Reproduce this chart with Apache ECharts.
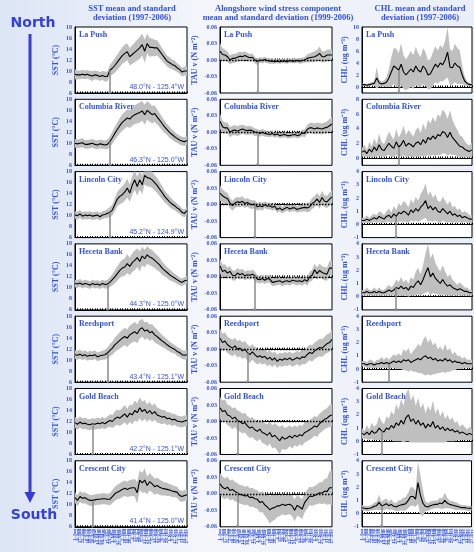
<!DOCTYPE html>
<html><head><meta charset="utf-8">
<script src="https://cdn.jsdelivr.net/npm/echarts@6/dist/echarts.min.js"></script>
<style>html,body{margin:0;padding:0;background:#eef2fa}#c{width:474px;height:552px}</style>
</head><body><div id="c"></div>
<script>
const dates = ['1-Jan','9-Jan','17-Jan','25-Jan','2-Feb','10-Feb','18-Feb','26-Feb','6-Mar','14-Mar','22-Mar','30-Mar','7-Apr','15-Apr','23-Apr','1-May','9-May','17-May','25-May','2-Jun','10-Jun','18-Jun','26-Jun','4-Jul','12-Jul','20-Jul','28-Jul','5-Aug','13-Aug','21-Aug','29-Aug','6-Sep','14-Sep','22-Sep','30-Sep','8-Oct','16-Oct','24-Oct','1-Nov','9-Nov','17-Nov','25-Nov','3-Dec','11-Dec','19-Dec','27-Dec'];
const stations = ['La Push','Columbia River','Lincoln City','Heceta Bank','Reedsport','Gold Beach','Crescent City'];
const positions = ['48.0°N - 125.4°W','46.3°N - 125.0°W','45.2°N - 124.9°W','44.3°N - 125.0°W','43.4°N - 125.1°W','42.2°N - 125.1°W','41.4°N - 125.0°W'];
const columnTitles = ['SST mean and standard\ndeviation (1997-2006)','Alongshore wind stress component\nmean and standard deviation (1999-2006)','CHL mean and standard\ndeviation (1997-2006)'];

// SST (°C): mean and standard deviation per station
const sstMean = [
[9.4,9.3,9.3,9.4,9.3,9.4,9.2,9.1,9.3,9.2,9.0,9.2,9.0,9.0,10.1,10.5,11.0,11.6,12.2,12.8,13.2,13.5,12.6,13.0,13.4,13.8,14.2,14.8,13.6,15.0,14.3,14.3,14.2,14.2,13.6,13.0,12.4,11.8,11.5,11.2,11.0,10.6,10.3,9.8,10.0,10.0],
[10.0,9.9,10.0,10.1,9.8,9.8,9.9,10.0,9.8,9.7,9.9,9.8,9.7,9.8,10.3,11.0,11.8,12.5,13.2,13.8,14.2,14.6,14.4,14.9,15.2,15.4,15.6,15.9,15.2,16.0,15.6,15.2,15.4,14.8,14.2,13.6,13.0,12.5,12.0,11.6,11.2,10.9,10.6,10.4,10.3,10.5],
[10.1,10.0,10.3,9.9,10.1,10.0,10.1,9.9,10.0,10.1,9.8,10.1,10.2,10.4,10.6,11.0,12.0,13.0,13.5,13.8,14.3,15.0,14.1,15.5,16.5,15.3,16.5,15.6,17.3,16.9,16.8,16.5,16.0,15.5,14.8,14.2,13.5,13.0,12.5,12.1,11.8,11.4,11.1,10.6,10.4,10.9],
[10.8,10.7,10.9,10.6,10.8,10.7,10.5,10.8,10.6,10.7,10.5,10.8,10.6,10.7,11.0,11.5,12.0,12.6,13.2,13.6,13.8,14.4,13.9,14.6,15.0,15.5,14.8,15.8,15.3,16.0,15.6,15.4,15.0,14.6,14.2,13.6,13.2,12.8,12.4,12.1,11.8,11.5,11.2,11.0,11.3,11.4],
[11.0,10.9,11.1,10.8,11.0,10.7,10.9,10.8,11.0,10.6,10.8,10.9,11.0,11.3,11.8,12.2,12.8,13.2,13.6,14.0,14.3,14.0,14.6,14.9,15.2,14.8,15.6,15.9,15.3,15.5,15.0,15.2,14.6,14.3,13.9,13.5,13.2,12.8,12.5,12.2,12.0,11.6,11.4,11.0,10.9,11.0],
[11.8,11.5,11.9,11.6,11.7,11.5,11.4,11.6,11.5,11.7,11.6,11.8,11.6,11.9,12.2,12.0,12.5,12.8,12.6,13.0,13.4,12.8,13.5,13.2,14.0,13.6,14.5,13.8,14.2,13.5,14.0,13.4,13.8,13.2,13.0,12.8,12.9,12.5,12.6,12.3,12.4,12.1,12.0,11.9,12.1,12.2],
[11.3,10.8,11.5,11.2,11.3,11.0,10.8,10.8,10.9,11.0,11.0,11.1,11.1,11.0,11.0,11.5,12.0,12.3,12.5,12.8,13.0,12.8,13.0,13.1,13.1,12.2,14.5,14.0,14.5,13.5,14.2,13.8,13.3,13.5,13.2,13.0,12.9,12.8,12.7,12.5,12.4,12.3,11.7,11.5,11.7,11.8]
];
const sstSd = [
[0.9,0.8,0.8,0.8,0.8,0.8,0.8,0.9,0.8,0.8,0.8,0.8,0.9,0.9,1.0,1.2,1.3,1.4,1.5,1.5,1.6,1.5,1.6,1.7,1.8,1.9,2.0,2.0,2.1,1.8,1.7,1.6,1.5,1.4,1.3,1.2,1.1,1.0,1.0,0.9,0.9,0.8,0.8,0.8,0.8,0.8],
[0.8,0.8,0.8,0.8,0.8,0.8,0.8,0.8,0.8,0.8,0.8,0.8,0.8,0.9,1.0,1.1,1.2,1.3,1.4,1.5,1.5,1.6,1.6,1.7,1.7,1.8,1.8,1.8,1.8,1.7,1.7,1.6,1.5,1.4,1.3,1.2,1.1,1.0,1.0,0.9,0.9,0.8,0.8,0.8,0.8,0.8],
[0.7,0.7,0.7,0.7,0.7,0.7,0.7,0.7,0.7,0.7,0.7,0.7,0.7,0.8,0.9,1.0,1.2,1.3,1.4,1.5,1.6,1.7,1.6,1.7,1.8,1.7,1.8,1.7,1.6,1.6,1.5,1.5,1.4,1.4,1.3,1.2,1.1,1.0,1.0,0.9,0.8,0.8,0.7,0.7,0.7,0.7],
[0.7,0.7,0.7,0.7,0.7,0.7,0.7,0.7,0.7,0.7,0.7,0.7,0.7,0.8,0.9,1.0,1.2,1.3,1.4,1.5,1.6,1.7,1.6,1.7,1.8,1.7,1.8,1.7,1.6,1.6,1.5,1.5,1.4,1.4,1.3,1.2,1.1,1.0,1.0,0.9,0.8,0.8,0.7,0.7,0.7,0.7],
[0.8,0.8,0.8,0.8,0.8,0.8,0.8,0.8,0.8,0.8,0.8,0.8,0.9,1.0,1.1,1.2,1.3,1.4,1.5,1.5,1.6,1.6,1.7,1.7,1.8,1.7,1.7,1.6,1.6,1.5,1.5,1.4,1.4,1.3,1.2,1.1,1.0,1.0,0.9,0.9,0.8,0.8,0.8,0.8,0.8,0.8],
[1.0,1.0,1.0,1.0,1.0,1.0,1.0,1.0,1.0,1.0,1.0,1.0,1.0,1.0,1.1,1.2,1.3,1.4,1.4,1.5,1.6,1.5,1.6,1.7,1.8,1.7,1.9,1.8,1.7,1.6,1.6,1.5,1.5,1.4,1.3,1.3,1.2,1.2,1.1,1.1,1.0,1.0,1.0,1.0,1.0,1.0],
[1.0,1.0,1.0,1.0,1.0,1.0,1.0,1.0,1.0,1.0,1.0,1.0,1.0,1.0,1.1,1.2,1.3,1.3,1.4,1.4,1.4,1.4,1.5,1.5,1.6,2.0,1.8,1.8,2.2,1.6,1.6,1.5,1.5,1.4,1.4,1.3,1.2,1.2,1.1,1.1,1.0,1.0,1.0,1.0,1.0,1.0]
];

// Alongshore wind stress (N m-2)
const windMean = [
[0.016,0.010,0.009,0.006,0.000,0.003,0.003,0.005,0.007,0.006,0.008,0.006,0.004,0.005,0.000,-0.003,0.000,-0.001,0.001,-0.001,-0.002,-0.002,-0.003,-0.002,-0.003,-0.002,-0.002,-0.003,-0.001,-0.002,-0.002,-0.001,-0.002,-0.001,0.000,0.003,0.004,0.005,0.006,0.008,0.012,0.006,0.006,0.009,0.009,0.009],
[0.020,0.010,0.008,0.008,0.000,0.003,0.004,0.002,0.004,0.006,0.004,0.003,0.004,0.003,0.000,0.000,-0.002,0.000,-0.002,-0.003,-0.004,-0.002,-0.005,-0.003,-0.006,-0.005,-0.004,-0.006,-0.006,-0.005,-0.004,-0.006,-0.005,-0.001,-0.002,0.005,0.008,0.008,0.006,0.008,0.007,0.006,0.008,0.009,0.012,0.015],
[0.021,0.016,0.013,0.011,0.003,-0.002,0.003,0.005,0.004,0.006,0.002,0.004,0.001,0.000,0.001,-0.004,-0.002,-0.004,0.000,-0.003,-0.002,-0.005,-0.003,-0.009,-0.006,-0.010,-0.007,-0.005,-0.008,-0.006,-0.006,-0.009,-0.007,-0.006,-0.005,-0.006,-0.004,0.002,0.005,0.010,0.004,0.013,0.006,0.005,0.010,0.014],
[0.020,0.010,0.012,0.007,0.010,0.003,0.002,0.007,0.004,0.006,0.002,0.004,0.003,0.005,0.002,-0.004,-0.005,-0.003,-0.006,-0.003,-0.004,-0.010,-0.009,-0.008,-0.007,-0.010,-0.008,-0.007,-0.009,-0.006,-0.007,-0.008,-0.007,-0.009,-0.005,-0.008,0.000,0.003,0.013,0.006,0.012,0.008,0.006,0.005,0.016,0.016],
[0.020,0.012,0.015,0.008,0.005,0.002,0.006,0.000,0.002,-0.003,0.000,-0.006,-0.010,-0.005,-0.010,-0.014,-0.012,-0.015,-0.013,-0.018,-0.015,-0.020,-0.016,-0.022,-0.018,-0.020,-0.017,-0.019,-0.016,-0.020,-0.018,-0.015,-0.018,-0.014,-0.015,-0.010,-0.006,-0.008,-0.003,0.000,0.003,0.002,0.006,0.010,0.012,0.018],
[0.025,0.018,0.020,0.012,0.010,0.005,0.008,0.002,0.000,-0.004,-0.002,-0.008,-0.012,-0.010,-0.015,-0.018,-0.014,-0.020,-0.022,-0.025,-0.020,-0.028,-0.025,-0.030,-0.035,-0.028,-0.032,-0.030,-0.026,-0.030,-0.025,-0.028,-0.024,-0.026,-0.020,-0.018,-0.015,-0.012,-0.008,-0.010,-0.004,0.000,0.004,0.006,0.010,0.012],
[0.018,0.012,0.009,0.012,0.006,0.008,0.004,0.002,-0.001,-0.002,-0.004,-0.003,-0.007,-0.006,-0.009,-0.010,-0.016,-0.014,-0.020,-0.024,-0.029,-0.026,-0.025,-0.022,-0.022,-0.019,-0.021,-0.020,-0.019,-0.022,-0.030,-0.021,-0.024,-0.028,-0.016,-0.010,-0.004,-0.005,-0.003,-0.001,0.002,0.001,0.005,0.004,0.011,0.011]
];
const windSd = [
[0.015,0.012,0.010,0.009,0.008,0.008,0.008,0.008,0.008,0.008,0.008,0.007,0.007,0.007,0.006,0.006,0.005,0.005,0.005,0.005,0.005,0.005,0.004,0.004,0.004,0.004,0.004,0.004,0.004,0.004,0.004,0.004,0.005,0.005,0.005,0.007,0.008,0.009,0.010,0.010,0.012,0.010,0.010,0.010,0.010,0.010],
[0.014,0.011,0.010,0.010,0.009,0.009,0.009,0.009,0.009,0.008,0.008,0.008,0.008,0.007,0.007,0.006,0.006,0.006,0.006,0.005,0.005,0.005,0.005,0.005,0.005,0.005,0.005,0.005,0.005,0.005,0.005,0.005,0.005,0.006,0.007,0.008,0.009,0.010,0.010,0.010,0.010,0.010,0.010,0.011,0.012,0.013],
[0.014,0.012,0.011,0.010,0.009,0.009,0.009,0.009,0.009,0.009,0.008,0.008,0.008,0.008,0.007,0.007,0.007,0.007,0.006,0.006,0.006,0.006,0.006,0.006,0.006,0.006,0.006,0.006,0.006,0.006,0.006,0.006,0.006,0.007,0.007,0.008,0.009,0.010,0.010,0.011,0.011,0.012,0.011,0.011,0.012,0.013],
[0.014,0.012,0.011,0.010,0.010,0.009,0.009,0.009,0.009,0.009,0.008,0.008,0.008,0.008,0.008,0.007,0.007,0.007,0.007,0.007,0.007,0.007,0.007,0.007,0.007,0.007,0.007,0.007,0.007,0.007,0.007,0.007,0.007,0.007,0.007,0.008,0.009,0.010,0.011,0.011,0.012,0.012,0.012,0.012,0.013,0.014],
[0.018,0.016,0.016,0.015,0.015,0.015,0.015,0.015,0.015,0.015,0.015,0.015,0.015,0.014,0.014,0.014,0.013,0.013,0.013,0.013,0.013,0.013,0.012,0.012,0.012,0.012,0.012,0.012,0.012,0.012,0.012,0.012,0.013,0.013,0.013,0.014,0.014,0.015,0.015,0.015,0.016,0.016,0.016,0.017,0.017,0.018],
[0.020,0.020,0.020,0.019,0.019,0.019,0.018,0.018,0.018,0.018,0.018,0.018,0.018,0.018,0.018,0.018,0.018,0.019,0.019,0.020,0.020,0.021,0.022,0.023,0.025,0.022,0.020,0.020,0.019,0.019,0.018,0.018,0.018,0.018,0.018,0.018,0.018,0.018,0.018,0.018,0.018,0.018,0.018,0.018,0.020,0.020],
[0.020,0.020,0.019,0.019,0.018,0.018,0.018,0.017,0.017,0.017,0.017,0.017,0.017,0.017,0.017,0.017,0.018,0.019,0.020,0.022,0.025,0.024,0.022,0.020,0.019,0.018,0.018,0.018,0.018,0.019,0.020,0.019,0.018,0.018,0.018,0.017,0.017,0.017,0.017,0.018,0.019,0.020,0.022,0.024,0.030,0.032]
];

// Chlorophyll (ug m-3)
const chlMean = [
[0.4,0.4,0.3,0.4,0.5,0.6,1.5,0.7,0.5,0.6,0.8,1.5,2.5,3.5,3.2,2.8,3.8,2.5,2.0,2.5,3.0,2.5,3.5,2.8,2.5,3.5,3.0,2.0,2.2,3.0,3.8,3.3,4.0,3.7,4.5,5.8,3.3,3.2,4.0,3.5,3.3,2.0,1.0,0.6,0.4,0.4],
[0.8,1.0,0.6,1.2,0.8,1.5,1.0,1.8,1.2,1.0,1.5,2.0,1.6,1.3,2.2,1.5,1.8,2.4,1.6,2.0,1.8,1.5,2.0,2.2,1.8,2.5,2.0,2.8,2.5,3.0,2.6,3.2,3.0,3.6,3.4,2.8,3.5,2.8,2.4,2.0,1.6,1.5,1.2,1.0,0.9,1.1],
[0.3,0.3,0.4,0.3,0.4,0.5,0.4,0.6,0.5,0.4,0.6,0.7,0.5,0.8,0.6,0.9,0.8,1.0,0.9,0.7,1.1,0.9,1.2,1.0,1.3,1.5,1.8,1.2,1.4,1.1,1.3,1.0,0.9,1.2,1.0,0.8,1.0,0.7,0.8,0.6,0.7,0.5,0.6,0.5,0.4,0.4],
[0.3,0.3,0.4,0.3,0.3,0.4,0.3,0.4,0.3,0.3,0.4,0.5,0.4,0.5,0.7,0.6,0.8,0.6,0.7,0.5,0.8,0.7,1.0,1.2,0.9,1.3,1.8,2.2,1.5,1.8,1.4,1.2,1.0,1.3,1.0,0.8,0.9,0.7,0.6,0.5,0.6,0.5,0.4,0.4,0.3,0.3],
[0.4,0.4,0.3,0.4,0.4,0.3,0.4,0.4,0.5,0.4,0.5,0.4,0.5,0.6,0.5,0.6,0.5,0.7,0.6,0.7,0.5,0.6,0.7,0.8,0.7,0.9,1.0,0.8,0.9,0.7,0.8,0.6,0.7,0.6,0.8,0.6,0.7,0.5,0.6,0.5,0.5,0.4,0.5,0.4,0.4,0.4],
[0.6,0.5,0.7,0.5,0.8,0.6,0.7,1.0,0.8,0.7,1.0,0.9,1.2,1.0,1.4,1.2,1.6,1.3,1.8,2.0,1.5,1.7,1.3,1.6,1.2,1.4,1.0,1.3,1.1,1.5,1.0,1.2,0.9,1.1,0.8,1.0,0.8,0.9,0.7,0.8,0.6,0.7,0.6,0.5,0.6,0.5],
[0.45,0.4,0.38,0.4,0.45,0.55,0.6,0.85,0.6,0.65,0.75,0.6,0.7,0.55,0.5,0.6,0.65,0.7,0.75,1.0,1.3,1.3,1.1,2.35,1.4,0.8,0.55,0.5,0.6,0.65,0.7,0.7,0.8,0.75,1.0,0.8,0.7,0.65,0.6,0.55,0.5,0.45,0.45,0.42,0.4,0.4]
];
const chlSd = [
[0.2,0.2,0.2,0.3,0.3,0.4,1.8,0.6,0.4,0.5,0.8,1.5,2.5,3.0,3.2,2.8,3.5,2.8,2.6,2.8,3.0,2.8,3.2,2.8,2.5,3.0,2.8,2.4,2.5,2.8,3.0,2.8,3.0,2.8,3.2,4.2,3.0,2.8,3.2,3.0,2.8,1.5,0.8,0.4,0.3,0.3],
[0.6,0.8,0.5,1.0,0.8,1.2,0.9,1.5,1.0,0.9,1.2,1.6,1.4,1.2,1.8,1.3,1.6,2.0,1.5,1.8,1.6,1.4,1.8,2.0,1.6,2.2,1.8,2.4,2.2,2.6,2.3,2.8,2.6,3.0,2.8,2.5,3.0,2.4,2.0,1.8,1.5,1.4,1.1,0.9,0.8,1.0],
[0.2,0.2,0.3,0.2,0.3,0.3,0.3,0.4,0.4,0.3,0.4,0.5,0.4,0.6,0.5,0.7,0.6,0.8,0.7,0.6,0.8,0.7,0.9,0.8,1.0,1.1,1.3,1.0,1.1,0.9,1.0,0.8,0.8,0.9,0.8,0.7,0.8,0.6,0.6,0.5,0.5,0.4,0.4,0.4,0.3,0.3],
[0.2,0.2,0.3,0.2,0.2,0.3,0.2,0.3,0.2,0.2,0.3,0.4,0.3,0.4,0.6,0.5,0.7,0.5,0.6,0.5,0.7,0.6,0.9,1.0,0.8,1.1,1.5,1.8,1.4,1.5,1.2,1.0,0.9,1.1,0.9,0.7,0.8,0.6,0.5,0.4,0.5,0.4,0.3,0.3,0.2,0.2],
[0.2,0.2,0.2,0.3,0.3,0.2,0.3,0.3,0.4,0.3,0.4,0.3,0.4,0.5,0.5,0.6,0.5,0.8,0.7,0.9,0.6,0.8,0.9,1.1,1.0,1.3,1.5,1.2,1.4,1.1,1.2,0.9,1.0,0.8,1.1,0.8,0.9,0.6,0.7,0.5,0.5,0.4,0.4,0.3,0.3,0.3],
[0.4,0.3,0.5,0.4,0.6,0.5,0.6,0.9,0.7,0.6,0.9,0.8,1.1,1.0,1.4,1.2,1.6,1.4,1.8,2.0,1.6,1.8,1.4,1.7,1.3,1.5,1.1,1.4,1.2,1.6,1.1,1.3,1.0,1.2,0.9,1.0,0.8,0.9,0.7,0.7,0.5,0.6,0.5,0.4,0.5,0.4],
[0.2,0.2,0.2,0.2,0.2,0.3,0.3,0.6,0.3,0.4,0.4,0.3,0.4,0.3,0.3,0.4,0.4,0.5,0.5,0.6,0.7,0.7,0.6,1.6,1.5,1.0,0.4,0.3,0.3,0.3,0.3,0.3,0.4,0.4,0.6,0.4,0.3,0.3,0.3,0.3,0.2,0.2,0.2,0.2,0.2,0.2]
];

// Spring transition period index marked by the gray vertical line
const transSst = [14,14,14,13,13,7,7];
const transWind = [15,15,14,14,11,7,7];
const transChl = [15,15,14,14,11,8,8];

// Axis ranges
const sstAxis = {min:6, max:18, interval:2};
const windAxis = {min:-0.06, max:0.06, interval:0.03};
const chlAxisMax = [10,8,4,4,4,4,4];
const chlLabelStep = [2,2,1,1,1,1,1];

const BLUE = '#3352e0';
const SERIF = '"Liberation Serif","Times New Roman",serif';
const chart = echarts.init(document.getElementById('c'));

const cols = [
  {left:75, width:112, name:'SST (°C)', nameGap:15, mean:sstMean, sd:sstSd, trans:transSst},
  {left:220, width:112, name:'TAU v (N m⁻²)', nameGap:21, mean:windMean, sd:windSd, trans:transWind},
  {left:362, width:110, name:'CHL (ug m⁻³)', nameGap:13, mean:chlMean, sd:chlSd, trans:transChl}
];
const TOP0 = 27, STEP = 72.3, H = 66;

const grid = [], xAxis = [], yAxis = [], series = [], graphic = [];

for (let r = 0; r < 7; r++) {
  const top = TOP0 + STEP * r;
  cols.forEach((col, c) => {
    const gi = grid.length;
    grid.push({left: col.left, top: top, width: col.width, height: H, show: true,
      borderColor: '#000', borderWidth: 1, backgroundColor: '#fff'});
    xAxis.push({gridIndex: gi, type: 'category', data: dates, boundaryGap: false,
      axisLine: {show: true, lineStyle: {color: '#000', width: 1}},
      axisTick: {show: true, inside: true, length: 1.5, interval: 0, lineStyle: {color: '#000'}},
      axisLabel: {show: r === 6, interval: 0, rotate: 90, fontSize: 5, color: BLUE, margin: 2, fontFamily: SERIF, fontWeight: 'bold'},
      splitLine: {show: false}});
    let ax;
    if (c === 0) ax = {min: sstAxis.min, max: sstAxis.max, interval: sstAxis.interval, fmt: v => String(v)};
    else if (c === 1) ax = {min: windAxis.min, max: windAxis.max, interval: windAxis.interval, fmt: v => v.toFixed(2)};
    else {
      const st = chlLabelStep[r];
      ax = {min: -1, max: chlAxisMax[r], interval: 1, fmt: v => (Math.round(v) % st === 0 ? String(Math.round(v)) : '')};
    }
    yAxis.push({gridIndex: gi, type: 'value', min: ax.min, max: ax.max, interval: ax.interval,
      axisLine: {show: true, lineStyle: {color: '#000'}},
      axisTick: {show: false},
      splitLine: {show: false},
      axisLabel: {fontSize: 6, fontWeight: 'bold', fontFamily: SERIF, color: BLUE, margin: 3, formatter: ax.fmt},
      name: col.name, nameLocation: 'middle', nameGap: col.nameGap, nameRotate: 90,
      nameTextStyle: {fontSize: 8, fontWeight: 'bold', fontFamily: SERIF, color: BLUE}});
    const m = col.mean[r], s = col.sd[r];
    const lower = m.map((v, i) => +(v - s[i]).toFixed(4));
    const width = s.map(v => +(2 * v).toFixed(4));
    series.push({type: 'line', xAxisIndex: gi, yAxisIndex: gi, data: lower, stack: 'b' + gi, stackStrategy: 'all',
      symbol: 'none', silent: true, lineStyle: {width: 0, opacity: 0}, z: 1});
    series.push({type: 'line', xAxisIndex: gi, yAxisIndex: gi, data: width, stack: 'b' + gi, stackStrategy: 'all',
      symbol: 'none', silent: true, lineStyle: {width: 0, opacity: 0}, areaStyle: {color: '#bfbfbf', opacity: 1}, z: 1});
    const t = col.trans[r];
    const mlData = [[
      {coord: [dates[t], ax.min], symbol: 'triangle', symbolSize: 3, lineStyle: {color: '#8a8a8a', width: 1.5, type: 'solid'}},
      {coord: [dates[t], m[t]], symbol: 'none'}
    ]];
    if (c === 1) mlData.push({yAxis: 0, symbol: 'none', lineStyle: {color: '#000', width: 1.4, type: [1.5, 1.5]}});
    series.push({type: 'line', xAxisIndex: gi, yAxisIndex: gi, data: m, symbol: 'none', silent: true,
      lineStyle: {color: '#000', width: 1.1}, z: 3,
      markLine: {silent: true, symbol: ['none', 'none'], label: {show: false}, animation: false, data: mlData}});
    graphic.push({type: 'text', x: col.left + 4, y: top + 4, z: 10,
      style: {text: stations[r], fill: BLUE, font: 'bold 8px ' + SERIF}});
    if (c === 0) {
      graphic.push({type: 'text', x: col.left + col.width - 3, y: top + H - 2, z: 10,
        style: {text: positions[r], fill: BLUE, font: '7px "Liberation Sans",Arial,sans-serif', align: 'right', verticalAlign: 'bottom', textAlign: 'right', textVerticalAlign: 'bottom'}});
    }
  });
}

const titleCenters = [132, 278, 420];
columnTitles.forEach((t, i) => {
  graphic.push({type: 'text', x: titleCenters[i], y: 4, z: 10,
    style: {text: t, fill: BLUE, font: 'bold 8.5px ' + SERIF, align: 'center', textAlign: 'center', lineHeight: 9.5}});
});
graphic.push({type: 'text', x: 33, y: 23, z: 10, style: {text: 'North', fill: '#3440d8', font: 'bold 14px "DejaVu Sans",sans-serif', align: 'center', verticalAlign: 'middle', textAlign: 'center', textVerticalAlign: 'middle'}});
graphic.push({type: 'text', x: 34, y: 515, z: 10, style: {text: 'South', fill: '#3440d8', font: 'bold 14px "DejaVu Sans",sans-serif', align: 'center', verticalAlign: 'middle', textAlign: 'center', textVerticalAlign: 'middle'}});
graphic.push({type: 'line', z: 10, shape: {x1: 30, y1: 34, x2: 30, y2: 494}, style: {stroke: '#3a3ad4', lineWidth: 3}});
graphic.push({type: 'polygon', z: 10, shape: {points: [[24.5, 492], [35.5, 492], [30, 503]]}, style: {fill: '#3a3ad4'}});

chart.setOption({
  animation: false,
  backgroundColor: {type: 'linear', x: 0, y: 0, x2: 1, y2: 0,
    colorStops: [{offset: 0, color: '#dce5f5'}, {offset: 0.45, color: '#f4f6fb'}, {offset: 1, color: '#e9eef8'}]},
  grid, xAxis, yAxis, series, graphic
});
</script></body></html>
